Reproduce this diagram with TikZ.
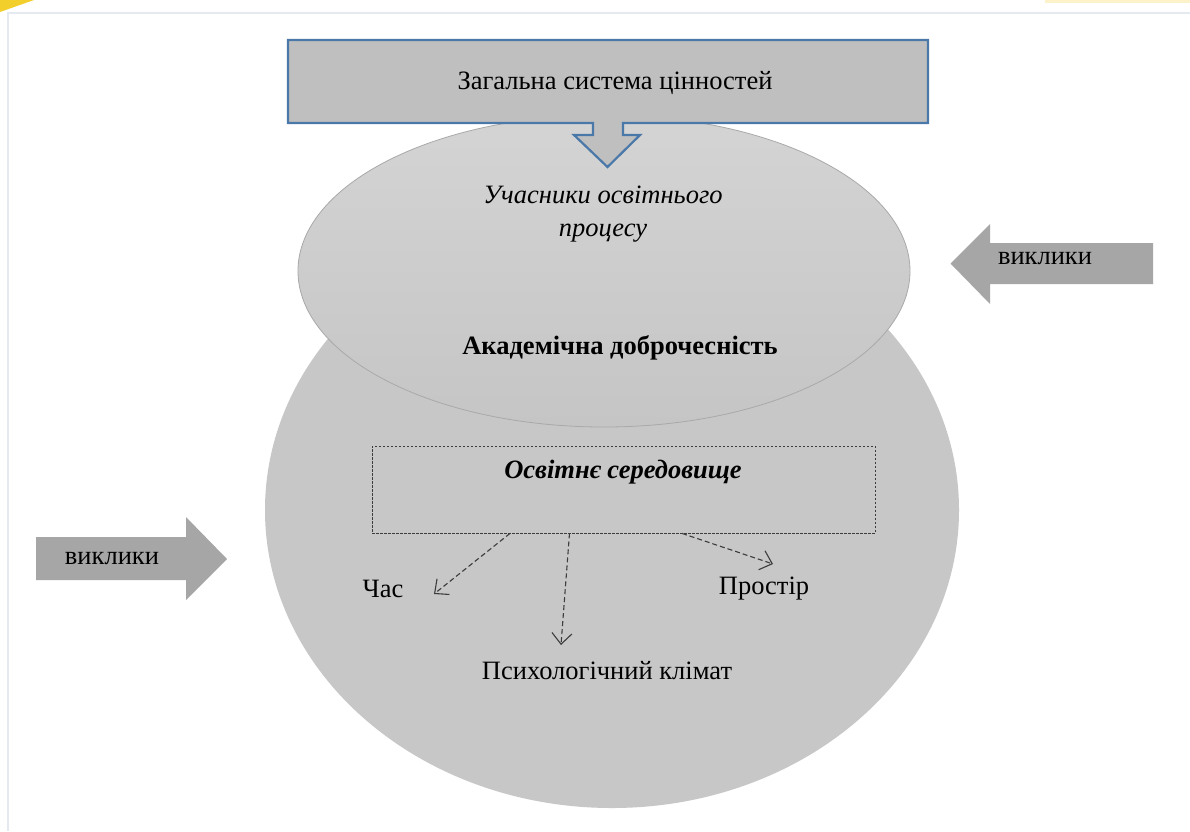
\documentclass[tikz,border=0pt]{standalone}
\usepackage{fontspec}
\setmainfont{Liberation Serif}
\usetikzlibrary{shapes.geometric,arrows.meta}
\definecolor{framec}{HTML}{E4EAF0}
\definecolor{bigfill}{HTML}{C7C7C7}
\definecolor{topfill}{HTML}{BFBFBF}
\definecolor{blueline}{HTML}{4A78A8}
\definecolor{arrfill}{HTML}{A6A6A6}
\definecolor{ellline}{HTML}{A9A9A9}
\definecolor{dashc}{HTML}{3C3C3C}
\definecolor{yel}{HTML}{F2CF2A}
\tikzset{
  txt/.style={inner sep=0pt, font=\fontsize{26.5}{33}\selectfont, align=center},
  dasharrow/.style={draw=dashc, line width=1.1pt, dash pattern=on 5pt off 3pt, -{Straight Barb[length=11pt, width=20pt, line width=1.1pt]}},
  bigarrow/.style={fill=arrfill, draw=none},
}
\begin{document}
\begin{tikzpicture}[x=1pt,y=-1pt]
\useasboundingbox (0,0) rectangle (1190,831);
\fill[white] (0,0) rectangle (1190,831);
% frame and corner decorations
\fill[yel] (0,0) -- (34,0) -- (0,12) -- cycle;
\fill[yel!25] (1045,0) -- (1190,0) -- (1190,3) -- (1045,3) -- cycle;
\draw[framec, line width=2pt] (8,831) -- (8,13) -- (1190,13);
% big ellipse
\node[ellipse, fill=bigfill, draw=none, minimum width=694, minimum height=596, inner sep=0pt] (big) at (612,510) {};
% upper ellipse
\node[ellipse, top color={rgb,255:red,212;green,212;blue,212}, bottom color={rgb,255:red,197;green,197;blue,197}, draw=ellline, line width=0.8pt, minimum width=612, minimum height=312, inner sep=0pt] (upper) at (604,271) {};
% top box with down arrow
\draw[blueline, line width=2.2pt, fill=topfill, line join=miter]
  (288,40) -- (928,40) -- (928,123) -- (623,123) -- (623,135) -- (640,135) -- (607.5,167)
  -- (574,135) -- (593,135) -- (593,123) -- (288,123) -- cycle;
\node[txt] (values) at (615,83) {Загальна система цінностей};
% texts in upper ellipse
\node[txt, font=\fontsize{26.5}{33}\selectfont\itshape] (part) at (603,214) {Учасники освітнього\\процесу};
\node[txt, font=\fontsize{26.5}{33}\selectfont\bfseries] (acad) at (620,348) {Академічна доброчесність};
% dashed box
\node[draw=dashc, line width=0.8pt, dash pattern=on 2.5pt off 1.5pt, minimum width=503, minimum height=87, inner sep=0pt] (env) at (623.5,489.5) {};
\node[txt, font=\fontsize{26.5}{33}\selectfont\bfseries\itshape] (envt) at (623,472) {Освітнє середовище};
% outcome labels
\node[txt] (time) at (383,589) {Час};
\node[txt] (space) at (764,589) {Простір};
\node[txt] (climate) at (607,671) {Психологічний клімат};
\coordinate (tEnd) at (434,594);
\coordinate (cEnd) at (561,645);
\coordinate (sEnd) at (773,564);
\draw[dasharrow] ([xshift=-113.5pt]env.south) -- (tEnd);
\draw[dasharrow] ([xshift=-54pt]env.south) -- (cEnd);
\draw[dasharrow] ([xshift=58.5pt]env.south) -- (sEnd);
% side arrows
\fill[bigarrow] (1153,243) -- (990,243) -- (990,224) -- (950.5,263.5) -- (990,304) -- (990,284) -- (1153,284) -- cycle;
\node[txt] (chR) at (1045,259) {виклики};
\fill[bigarrow] (36,537) -- (186,537) -- (186,517) -- (227,559) -- (186,600) -- (186,580) -- (36,580) -- cycle;
\node[txt] (chL) at (112,559) {виклики};
\end{tikzpicture}
\end{document}
